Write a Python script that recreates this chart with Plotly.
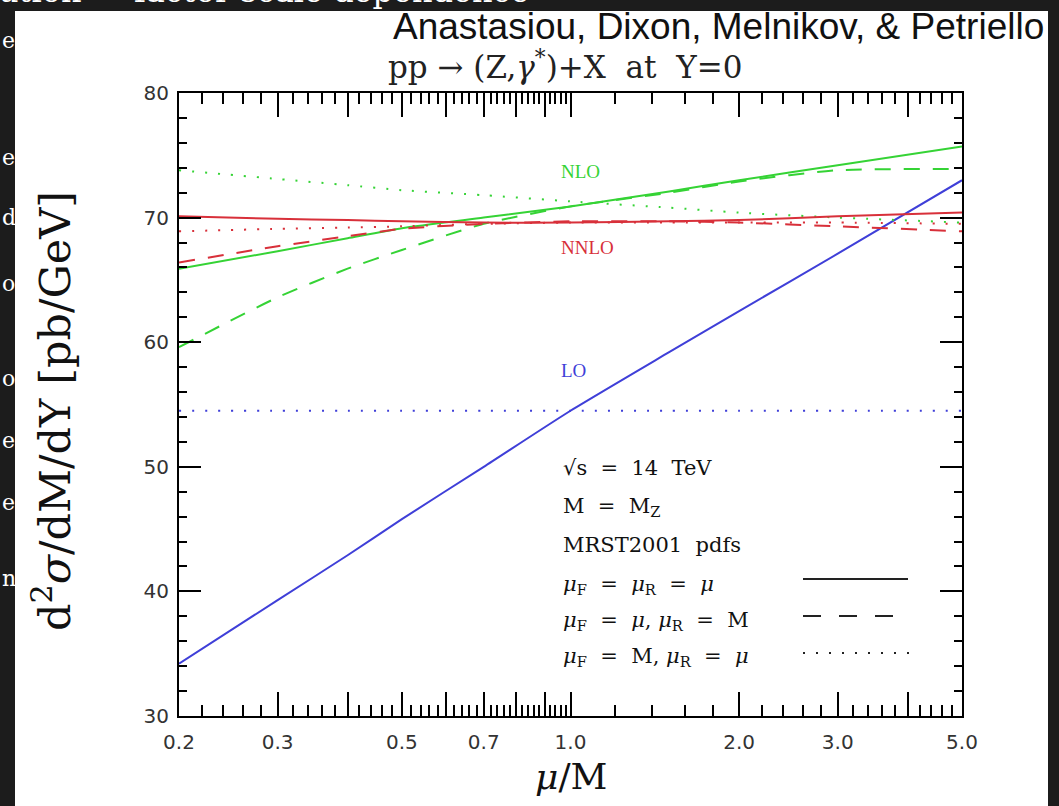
import plotly.graph_objects as go
import numpy as np

# ---------------- data ----------------
mu = [0.2, 0.3, 0.4, 0.5, 0.7, 1.0, 1.5, 2.0, 3.0, 5.0]

lo_solid  = [34.2, 39.3, 42.9, 45.8, 50.0, 54.5, 59.2, 62.5, 67.1, 73.0]
lo_dotted = [54.5, 54.5, 54.5, 54.5, 54.5, 54.5, 54.5, 54.5, 54.5, 54.5]

nlo_solid  = [65.9, 67.3, 68.35, 69.15, 70.0, 70.9, 72.1, 73.0, 74.2, 75.7]
nlo_dashed = [59.6, 63.6, 65.9, 67.4, 69.5, 70.9, 72.0, 72.9, 73.8, 73.9]
nlo_dotted = [73.8, 73.1, 72.6, 72.2, 71.8, 71.3, 70.8, 70.4, 70.0, 69.6]

nnlo_solid  = [70.1, 69.9, 69.8, 69.7, 69.6, 69.6, 69.7, 69.8, 70.1, 70.4]
nnlo_dashed = [66.4, 67.7, 68.5, 69.1, 69.5, 69.7, 69.7, 69.6, 69.3, 68.9]
nnlo_dotted = [68.9, 69.1, 69.2, 69.3, 69.5, 69.6, 69.6, 69.6, 69.6, 69.5]

x_labeled = [0.2, 0.3, 0.5, 0.7, 1.0, 2.0, 3.0, 5.0]
x_labels = ["0.2", "0.3", "0.5", "0.7", "1.0", "2.0", "3.0", "5.0"]
x_long = [0.4, 0.6, 0.8, 0.9, 4.0]
x_minor = [round(0.2 + 0.02 * i, 2) for i in range(41)] + [round(1.0 + 0.2 * i, 1) for i in range(21)]
y_major = [30, 40, 50, 60, 70, 80]
y_labels = ["30", "40", "50", "60", "70", "80"]

GREEN = "#35d335"
RED = "#d8303a"
BLUE = "#3f3fd8"

# ---------------- layout geometry ----------------
W, H = 1059, 806
L, R, T, B = 179, 962, 93, 716
PW, PH = R - L, B - T


def px(x):
    return (x - L) / PW


def py(y):
    return (B - y) / PH


fig = go.Figure()

DOT = "2px,11px"
DASH = "16px,13px"

series = [
    (lo_solid, BLUE, "solid"), (lo_dotted, BLUE, DOT),
    (nlo_solid, GREEN, "solid"), (nlo_dashed, GREEN, DASH), (nlo_dotted, GREEN, DOT),
    (nnlo_solid, RED, "solid"), (nnlo_dashed, RED, DASH), (nnlo_dotted, RED, DOT),
]
for ys, col, dash in series:
    fig.add_trace(go.Scatter(x=mu, y=ys, mode="lines",
                             line=dict(color=col, width=2, dash=dash, shape="spline", smoothing=0.6),
                             showlegend=False, hoverinfo="skip"))
# invisible trace on the overlay axis carrying the unlabeled long ticks
fig.add_trace(go.Scatter(x=[0.2, 5.0], y=[30, 30], xaxis="x2", mode="lines",
                         line=dict(width=0), showlegend=False, hoverinfo="skip"))

SERIF = "DejaVu Serif"
SANS = "DejaVu Sans"
XR = [np.log10(0.2), np.log10(5.0)]

fig.update_layout(
    width=W, height=H,
    margin=dict(l=L, r=W - R, t=T, b=H - B, pad=0),
    paper_bgcolor="white", plot_bgcolor="white",
    showlegend=False,
    xaxis=dict(
        type="log", range=XR,
        showgrid=False, zeroline=False,
        showline=True, linecolor="black", linewidth=2, mirror="ticks",
        ticks="inside", ticklen=24, tickwidth=2, tickcolor="black",
        tickmode="array", tickvals=x_labeled, ticktext=x_labels,
        ticklabelstandoff=7,
        tickfont=dict(family=SANS, size=20, color="#333"),
        minor=dict(tickmode="array", tickvals=x_minor, ticks="inside", ticklen=11,
                   tickwidth=1.5, tickcolor="black", showgrid=False),
    ),
    xaxis2=dict(
        type="log", range=XR, overlaying="x", anchor="y", side="bottom",
        showgrid=False, zeroline=False, showline=False, mirror="ticks",
        ticks="inside", ticklen=24, tickwidth=2, tickcolor="black",
        tickmode="array", tickvals=x_long, showticklabels=False,
    ),
    yaxis=dict(
        range=[30, 80],
        showgrid=False, zeroline=False,
        showline=True, linecolor="black", linewidth=2, mirror="ticks",
        ticks="inside", ticklen=22, tickwidth=2, tickcolor="black",
        tickmode="array", tickvals=y_major, ticktext=y_labels,
        ticklabelstandoff=4,
        tickfont=dict(family=SANS, size=20, color="#333"),
        minor=dict(tickmode="linear", tick0=30, dtick=2, ticks="inside", ticklen=8,
                   tickwidth=1.5, tickcolor="black", showgrid=False),
    ),
)

ann = []


def text(x, y, s, size, color="black", family=SERIF, xanchor="left", yanchor="middle", angle=0):
    ann.append(dict(x=px(x), y=py(y), xref="paper", yref="paper", text=s, showarrow=False,
                    font=dict(family=family, size=size, color=color), xanchor=xanchor, yanchor=yanchor,
                    textangle=angle))


NB = "\u00a0"
# titles
text(1046, 27, "Anastasiou, Dixon, Melnikov, &amp; Petriello", 37, "#111", "Liberation Sans", xanchor="right")
text(386, 65, f"pp{NB}→{NB}(Z,<i>γ</i><sup>*</sup>)+X{NB}{NB}at{NB}{NB}Y=0", 31, "#222")

# axis titles
text(571, 776, "<i>μ</i>/M", 36, "#111", xanchor="center")
text(52, 411, "d<sup>2</sup><i>σ</i>/dM/dY [pb/GeV]", 43, "#111", xanchor="center", angle=-90)

# curve labels
text(559, 172, "NLO", 19, GREEN, "Liberation Serif")
text(559, 247, "NNLO", 19, RED, "Liberation Serif")
text(559, 370, "LO", 19, BLUE, "Liberation Serif")

# legend texts
E = f"{NB}{NB}={NB}{NB}"
text(561, 468, f"√s{E}14{NB}{NB}TeV", 21, "#111")
text(561, 507, f"M{E}M<sub>Z</sub>", 21, "#111")
text(561, 545, f"MRST2001{NB}{NB}pdfs", 21, "#111")
text(561, 585, f"<i>μ</i><sub>F</sub>{E}<i>μ</i><sub>R</sub>{E}<i>μ</i>", 21, "#111")
text(561, 621, f"<i>μ</i><sub>F</sub>{E}<i>μ</i>,{NB}<i>μ</i><sub>R</sub>{E}M", 21, "#111")
text(561, 657, f"<i>μ</i><sub>F</sub>{E}M,{NB}<i>μ</i><sub>R</sub>{E}<i>μ</i>", 21, "#111")

# slide background fragments
DARK = "#1c1c1c"
for yy, ch in [(40, "e"), (157, "e"), (218, "d"), (283, "o"), (378, "o"), (440, "e"), (502, "e"), (578, "n")]:
    text(0, yy, ch, 22, "white", xanchor="left")
text(-4, -9, "ution — factor scale dependence", 32, "white")

shapes = [
    dict(type="rect", xref="paper", yref="paper", x0=px(-5), x1=px(15), y0=py(820), y1=py(-5),
         fillcolor=DARK, line=dict(width=0), layer="below"),
    dict(type="rect", xref="paper", yref="paper", x0=px(-5), x1=px(1070), y0=py(11), y1=py(-5),
         fillcolor=DARK, line=dict(width=0), layer="below"),
    dict(type="rect", xref="paper", yref="paper", x0=px(1048), x1=px(1070), y0=py(820), y1=py(-5),
         fillcolor=DARK, line=dict(width=0), layer="below"),
    # legend line keys
    dict(type="line", xref="paper", yref="paper", x0=px(803), x1=px(908), y0=py(579), y1=py(579),
         line=dict(color="#222", width=2)),
    dict(type="line", xref="paper", yref="paper", x0=px(803), x1=px(894), y0=py(616), y1=py(616),
         line=dict(color="#222", width=2, dash="18px,18px")),
    dict(type="line", xref="paper", yref="paper", x0=px(803), x1=px(910), y0=py(653), y1=py(653),
         line=dict(color="#222", width=2, dash="2px,11px")),
]

fig.update_layout(annotations=ann, shapes=shapes)
fig.write_html("out.html", config={"displayModeBar": False},
               post_script="document.body.style.margin='0px';document.body.style.overflow='hidden';")
